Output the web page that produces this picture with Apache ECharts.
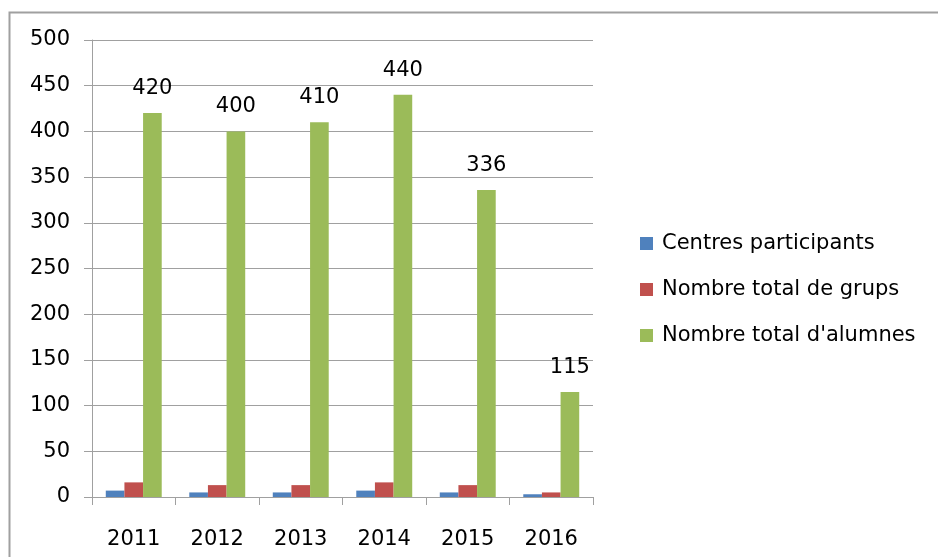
<!DOCTYPE html>
<html>
<head>
<meta charset="utf-8">
<script src="https://cdn.jsdelivr.net/npm/echarts@6/dist/echarts.min.js"></script>
<style>
  html, body { margin: 0; padding: 0; background: #fff; }
  #chart { width: 938px; height: 557px; }
</style>
</head>
<body>
<div id="chart"></div>
<script>
// dades llegides del gràfic
const years = ['2011', '2012', '2013', '2014', '2015', '2016'];
const centres = [7, 5, 5, 7, 5, 3];
const grups = [16, 13, 13, 16, 13, 5];
const alumnes = [420, 400, 410, 440, 336, 115];
const seriesNames = ['Centres participants', 'Nombre total de grups', "Nombre total d'alumnes"];
const colors = ['#4F81BD', '#C0504D', '#9BBB59'];

const font = '"DejaVu Sans", sans-serif';
const chart = echarts.init(document.getElementById('chart'));

const makeSeries = (name, data, color, withLabel) => ({
  name: name,
  type: 'bar',
  data: data,
  barGap: '0%',
  barCategoryGap: '33%',
  itemStyle: { color: color },
  label: {
    show: withLabel,
    position: 'top',
    distance: 14,
    color: '#000',
    fontSize: 21,
    fontFamily: font
  }
});

chart.setOption({
  animation: false,
  textStyle: { fontFamily: font },
  graphic: [{
    type: 'rect',
    shape: { x: 9.5, y: 12.5, width: 1000, height: 600 },
    style: { fill: 'none', stroke: '#a0a0a0', lineWidth: 2 },
    silent: true
  }],
  grid: { left: 92, right: 345, top: 40, bottom: 60 },
  legend: {
    orient: 'vertical',
    left: 635,
    top: 228,
    icon: 'rect',
    itemWidth: 13,
    itemHeight: 13,
    itemGap: 25,
    data: seriesNames,
    textStyle: { fontSize: 21, color: '#000', fontFamily: font, padding: [0, 0, 0, 4] }
  },
  xAxis: {
    type: 'category',
    data: years,
    axisLine: { lineStyle: { color: '#a0a0a0' } },
    axisTick: { show: true, length: 8, lineStyle: { color: '#a0a0a0' } },
    axisLabel: { color: '#000', fontSize: 21, margin: 32, fontFamily: font }
  },
  yAxis: {
    type: 'value',
    min: 0,
    max: 500,
    interval: 50,
    axisLine: { show: true, lineStyle: { color: '#a0a0a0' } },
    axisTick: { show: true, length: 8, lineStyle: { color: '#a0a0a0' } },
    axisLabel: { color: '#000', fontSize: 21, margin: 22, fontFamily: font },
    splitLine: { lineStyle: { color: '#a0a0a0' } }
  },
  series: [
    makeSeries(seriesNames[0], centres, colors[0], false),
    makeSeries(seriesNames[1], grups, colors[1], false),
    makeSeries(seriesNames[2], alumnes, colors[2], true)
  ]
});
</script>
</body>
</html>
